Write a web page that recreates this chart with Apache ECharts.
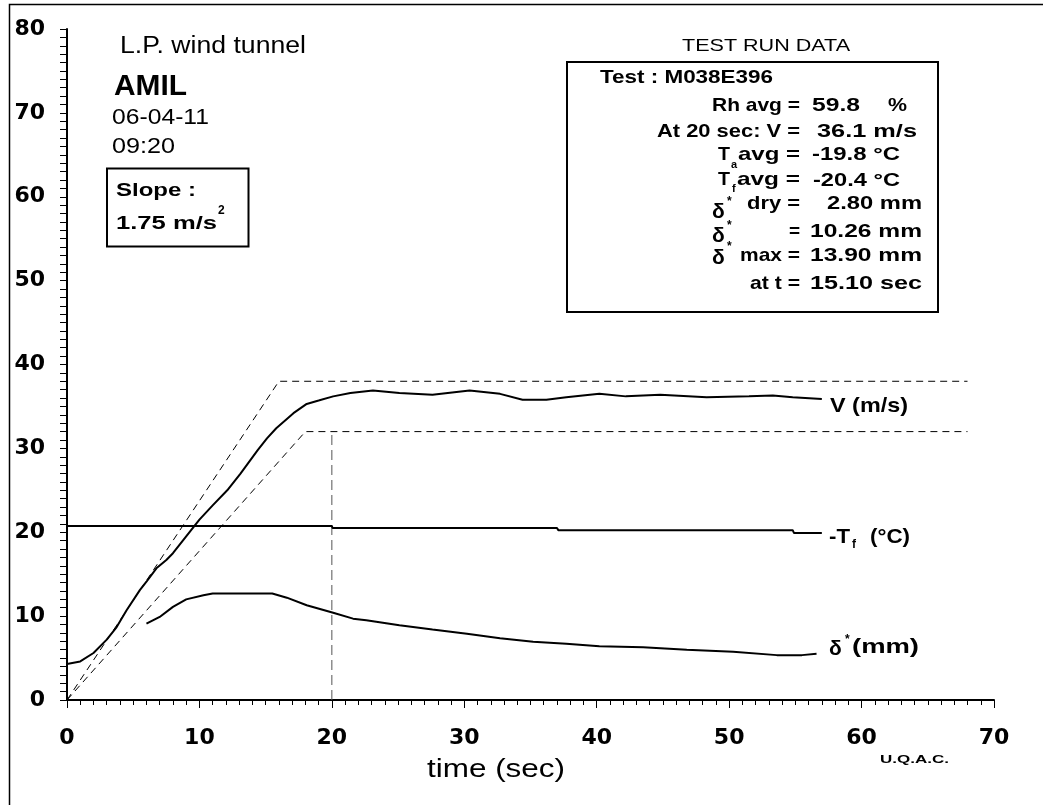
<!DOCTYPE html>
<html>
<head>
<meta charset="utf-8">
<script src="https://cdn.jsdelivr.net/npm/echarts@6/dist/echarts.min.js"></script>
<style>
html, body { margin: 0; padding: 0; background: #fff; }
#main { width: 1043px; height: 805px; }
</style>
</head>
<body>
<div id="main"></div>
<script>
var myChart = echarts.init(document.getElementById('main'));

// V (m/s)
var timeV  = [0, 1, 2, 3, 3.75, 4.5, 5.5, 6, 6.75, 7.5, 8, 9, 10, 11, 12.1, 13.1, 14.4, 15.1, 15.8, 17.1, 18.1, 19, 20.1, 21.4, 23.1, 25.1, 27.6, 30.4, 32.7, 34.4, 36.2, 37.7, 40.2, 42.2, 44.8, 48.3, 51.5, 53.3, 54.8, 57];
var speedV = [4.3, 4.6, 5.6, 7.2, 8.7, 10.7, 13.1, 14.1, 15.7, 16.7, 17.5, 19.5, 21.5, 23.2, 25.0, 27.0, 29.8, 31.2, 32.4, 34.2, 35.3, 35.7, 36.2, 36.6, 36.9, 36.6, 36.4, 36.9, 36.5, 35.8, 35.8, 36.1, 36.5, 36.2, 36.4, 36.1, 36.2, 36.3, 36.1, 35.9];

// -Tf (°C)
var timeTf = [0, 20, 20.05, 37, 37.1, 54.8, 54.9, 57];
var tempTf = [20.75, 20.75, 20.5, 20.5, 20.25, 20.25, 19.9, 19.9];

// delta* (mm)
var timeDelta = [6, 7, 8, 9, 10.3, 11, 13, 15.5, 16.6, 18.1, 20.1, 21.6, 22.6, 25.1, 27.6, 30.2, 32.7, 35.2, 37.7, 40.2, 43.5, 46.8, 50.3, 53.6, 55.5, 56.6];
var delta     = [9.1, 9.9, 11.1, 12.0, 12.5, 12.7, 12.7, 12.7, 12.2, 11.3, 10.4, 9.7, 9.5, 8.9, 8.4, 7.9, 7.35, 6.95, 6.7, 6.4, 6.3, 6.0, 5.75, 5.35, 5.35, 5.5];

// dashed guides
var upperT = [0, 16, 68];
var upperV = [0, 38, 38];
var lowerT = [0, 18, 68];
var lowerV = [0, 32, 32];
var markT  = [20, 20];
var markV  = [0, 32];

function pairs(xs, ys) {
    return xs.map(function (x, i) { return [x, ys[i]]; });
}

// text helper: stretch text to the measured width of the original
var ctx = document.createElement('canvas').getContext('2d');
var FAMILY = '"Liberation Sans", Arial, sans-serif';
function txt(s, x, y, size, bold, w, align) {
    var font = (bold ? 'bold ' : '') + size + 'px ' + FAMILY;
    ctx.font = font;
    var sx = w ? w / ctx.measureText(s).width : 1;
    return {
        type: 'text', x: x, y: y, scaleX: sx, silent: true, z: 10,
        style: {
            text: s, font: font, fill: '#000',
            textAlign: align || 'left', align: align || 'left',
            textVerticalAlign: 'middle', verticalAlign: 'middle'
        }
    };
}
function box(x, y, w, h, lw) {
    return {
        type: 'rect', silent: true, z: 9,
        shape: { x: x, y: y, width: w, height: h },
        style: { fill: null, stroke: '#000', lineWidth: lw }
    };
}

var graphics = [
    box(9.5, 4.5, 1100, 900, 1.5),
    txt('L.P. wind tunnel', 120, 47, 23, false, 186),
    txt('AMIL', 114, 87, 30, true, 73),
    txt('06-04-11', 112, 118, 22, false, 97),
    txt('09:20', 112, 147, 22, false, 63),
    box(107, 168.5, 141.5, 78, 2),
    txt('Slope :', 116, 191, 19, true, 80),
    txt('1.75 m/s', 116, 224, 19, true, 101),
    txt('2', 218, 211, 12, true, null),

    txt('TEST RUN DATA', 682, 46, 17, false, 168),
    box(567, 62, 371, 250, 2),
    txt('Test : M038E396', 600, 78, 19, true, 173),
    txt('Rh avg =', 800, 106, 19, true, 88, 'right'),
    txt('59.8', 812, 106, 19, true, 48),
    txt('%', 888, 106, 19, true, 19),
    txt('At 20 sec: V =', 800, 132, 19, true, 143, 'right'),
    txt('36.1 m/s', 817, 132, 19, true, 100),
    txt('T', 718, 155, 19, true, 12),
    txt('a', 731, 165, 11, true, null),
    txt('avg =', 800, 155, 19, true, 62, 'right'),
    txt('-19.8 °C', 812, 155, 19, true, 88),
    txt('T', 718, 180, 19, true, 12),
    txt('f', 732, 189, 11, true, null),
    txt('avg =', 800, 180, 19, true, 63, 'right'),
    txt('-20.4 °C', 813, 181, 19, true, 87),
    txt('δ', 712, 212, 21, true, null),
    txt('*', 727, 202, 12, true, null),
    txt('dry =', 800, 204, 19, true, 53, 'right'),
    txt('2.80 mm', 827, 204, 19, true, 95),
    txt('δ', 712, 236, 21, true, null),
    txt('*', 727, 226, 12, true, null),
    txt('=', 800, 232, 19, true, null, 'right'),
    txt('10.26 mm', 810, 232, 19, true, 112),
    txt('δ', 712, 258, 21, true, null),
    txt('*', 727, 247, 12, true, null),
    txt('max =', 800, 256, 19, true, 60, 'right'),
    txt('13.90 mm', 810, 256, 19, true, 112),
    txt('at t =', 800, 284, 19, true, 50, 'right'),
    txt('15.10 sec', 810, 284, 19, true, 112),

    txt('V (m/s)', 830, 406, 21, true, 78),
    txt('-T', 829, 537, 21, true, 21),
    txt('f', 852, 545, 12, true, null),
    txt('(°C)', 870, 537, 21, true, 40),
    txt('δ', 829, 649, 21, true, null),
    txt('*', 845, 640, 12, true, null),
    txt('(mm)', 852, 647, 21, true, 67),

    txt('time (sec)', 496, 770, 25, false, 138, 'center'),
    txt('U.Q.A.C.', 880, 760, 11, true, 69)
];

var axisFont = { color: '#000', fontWeight: 'bold', fontFamily: '"DejaVu Sans", sans-serif', fontSize: 22 };

var option = {
    animation: false,
    backgroundColor: '#fff',
    grid: { left: 67, right: 49, top: 29, bottom: 105 },
    xAxis: {
        type: 'value',
        min: 0,
        max: 70,
        interval: 10,
        axisLine: { lineStyle: { color: '#000', width: 2 } },
        axisTick: { length: 8, lineStyle: { color: '#000', width: 1 } },
        minorTick: { show: true, splitNumber: 10, length: 5, lineStyle: { color: '#000', width: 1 } },
        splitLine: { show: false },
        axisLabel: Object.assign({ margin: 27 }, axisFont)
    },
    yAxis: {
        type: 'value',
        min: 0,
        max: 80,
        interval: 10,
        axisLine: { show: true, lineStyle: { color: '#000', width: 2 } },
        axisTick: { show: true, length: 7, lineStyle: { color: '#000', width: 1 } },
        minorTick: { show: true, splitNumber: 10, length: 7, lineStyle: { color: '#000', width: 1 } },
        splitLine: { show: false },
        axisLabel: Object.assign({ margin: 22 }, axisFont)
    },
    graphic: graphics,
    series: [
        {
            name: 'upper', type: 'line', data: pairs(upperT, upperV),
            showSymbol: false, silent: true, z: 1,
            lineStyle: { color: '#000', width: 1, type: [7, 5] }
        },
        {
            name: 'lower', type: 'line', data: pairs(lowerT, lowerV),
            showSymbol: false, silent: true, z: 1,
            lineStyle: { color: '#000', width: 1, type: [7, 5] }
        },
        {
            name: 't20', type: 'line', data: pairs(markT, markV),
            showSymbol: false, silent: true, z: 1,
            lineStyle: { color: '#555', width: 1, type: [10, 5] }
        },
        {
            name: 'V', type: 'line', data: pairs(timeV, speedV),
            showSymbol: false, silent: true, z: 3,
            lineStyle: { color: '#000', width: 2 }
        },
        {
            name: 'Tf', type: 'line', data: pairs(timeTf, tempTf),
            showSymbol: false, silent: true, z: 3,
            lineStyle: { color: '#000', width: 2 }
        },
        {
            name: 'delta', type: 'line', data: pairs(timeDelta, delta),
            showSymbol: false, silent: true, z: 3,
            lineStyle: { color: '#000', width: 2 }
        }
    ]
};

myChart.setOption(option);
</script>
</body>
</html>
